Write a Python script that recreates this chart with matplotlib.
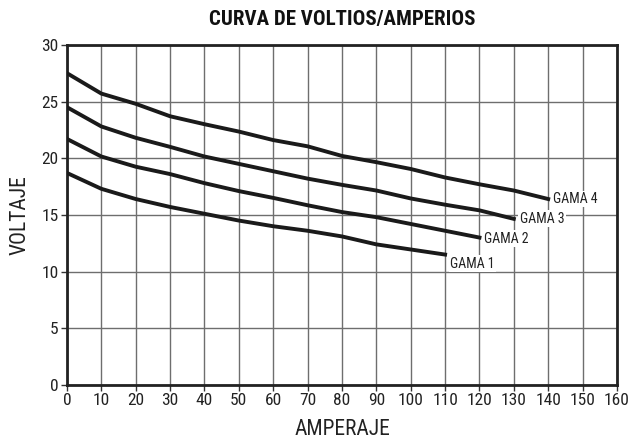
import matplotlib.pyplot as plt
import numpy as np

plt.rcParams['font.family'] = ['Roboto Condensed', 'DejaVu Sans']

# Voltage vs current for each range
amps_1 = [0, 10, 20, 30, 40, 50, 60, 70, 80, 90, 100, 110]
volts_1 = [18.7, 17.3, 16.4, 15.7, 15.1, 14.5, 14.0, 13.6, 13.1, 12.4, 11.95, 11.5]

amps_2 = [0, 10, 20, 30, 40, 50, 60, 70, 80, 90, 100, 110, 120]
volts_2 = [21.7, 20.15, 19.25, 18.6, 17.8, 17.1, 16.5, 15.85, 15.25, 14.8, 14.2, 13.6, 13.0]

amps_3 = [0, 10, 20, 30, 40, 50, 60, 70, 80, 90, 100, 110, 120, 130]
volts_3 = [24.5, 22.8, 21.8, 21.0, 20.15, 19.5, 18.85, 18.2, 17.65, 17.15, 16.45, 15.9, 15.4, 14.65]

amps_4 = [0, 10, 20, 30, 40, 50, 60, 70, 80, 90, 100, 110, 120, 130, 140]
volts_4 = [27.5, 25.7, 24.8, 23.7, 23.0, 22.35, 21.6, 21.05, 20.2, 19.65, 19.05, 18.3, 17.7, 17.15, 16.4]

series = [(amps_1, volts_1, 'GAMA 1'), (amps_2, volts_2, 'GAMA 2'),
          (amps_3, volts_3, 'GAMA 3'), (amps_4, volts_4, 'GAMA 4')]
label_offsets = [(5, -9), (5, -1), (6, 0), (5, 0)]

fig = plt.figure(figsize=(6.41, 4.44), dpi=100)
ax = fig.add_axes([0.1045, 0.133, 0.858, 0.766])

for x in range(0, 161, 10):
    ax.axvline(x, color='#6e6e6e', lw=1.0, zorder=1)
for y in range(0, 31, 5):
    ax.axhline(y, color='#6e6e6e', lw=1.0, zorder=1)

for (a, v, name), off in zip(series, label_offsets):
    ax.plot(a, v, color='#1a1a1a', lw=2.8, solid_joinstyle='round', zorder=3)
    ax.annotate(name, xy=(a[-1], v[-1]), xytext=off, textcoords='offset pixels',
                ha='left', va='center', fontsize=10, color='#222222', zorder=4,
                bbox=dict(facecolor='white', edgecolor='none', pad=1.0))

ax.set_xlim(0, 160)
ax.set_ylim(0, 30)
ax.set_xticks(np.arange(0, 161, 10))
ax.set_yticks(np.arange(0, 31, 5))
ax.tick_params(labelsize=12.5, length=4, width=1, pad=2, color='#333333', labelcolor='#222222')
for s in ax.spines.values():
    s.set_linewidth(2.0)
    s.set_color('#222222')

ax.set_xlabel('AMPERAJE', fontsize=15.5, color='#222222', labelpad=8)
ax.set_ylabel('VOLTAJE', fontsize=15.5, color='#222222', labelpad=8)
ax.set_title('CURVA DE VOLTIOS/AMPERIOS', fontsize=15, fontweight='bold', color='#111111', pad=14)

fig.savefig('out.png', dpi=100)
